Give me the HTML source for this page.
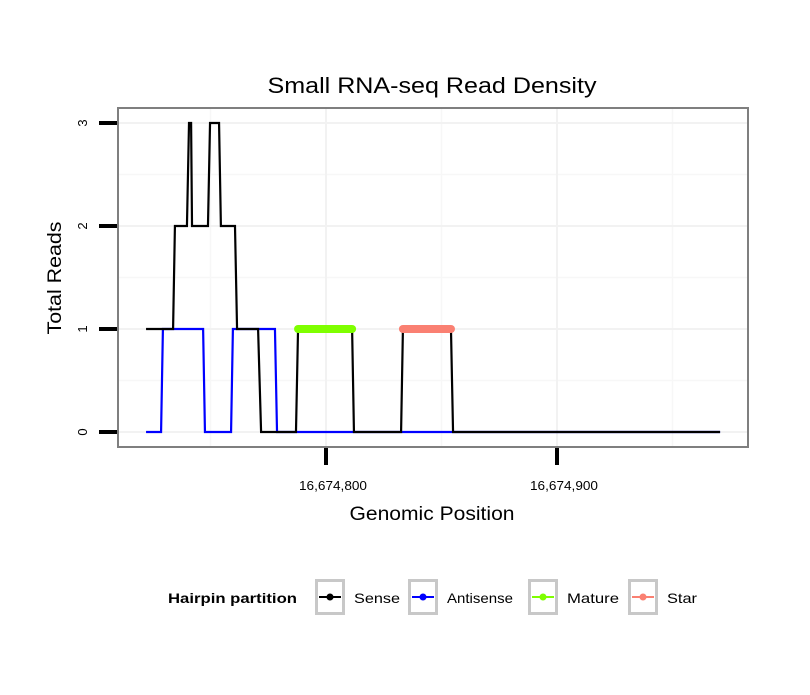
<!DOCTYPE html>
<html><head><meta charset="utf-8">
<style>
body{margin:0;background:#fff;}
svg text{font-family:"Liberation Sans",sans-serif;}
</style></head>
<body>
<svg id="chart" width="810" height="690" xmlns="http://www.w3.org/2000/svg">
<rect width="810" height="690" fill="#fff"/>
<text x="432" y="93" font-size="22" text-anchor="middle" textLength="329" lengthAdjust="spacingAndGlyphs">Small RNA-seq Read Density</text>
<g id="grid"></g>
<g id="series"></g>
<rect x="118" y="108" width="630" height="339" fill="none" stroke="#7f7f7f" stroke-width="2"/>
<g id="axes"></g>
<text x="432" y="520" font-size="19" text-anchor="middle" textLength="165" lengthAdjust="spacingAndGlyphs">Genomic Position</text>
<text transform="translate(61,278) rotate(-90)" font-size="19" text-anchor="middle" textLength="113" lengthAdjust="spacingAndGlyphs">Total Reads</text>
<g id="legend">
<text x="168" y="603" font-size="14" font-weight="bold" textLength="129" lengthAdjust="spacingAndGlyphs">Hairpin partition</text>
</g>
</svg>
<script>
const BASE = 16674700;
const xTicks = [16674800, 16674900];
const xTickLabels = ["16,674,800", "16,674,900"];
const xMinor = [16674750, 16674850, 16674950];
const yTicks = [0, 1, 2, 3];
const yTickLabels = ["0", "1", "2", "3"];
// offsets relative to BASE
const senseX = [22.1,33.8,34.6,39.8,40.7,41.6,42.0,48.9,49.8,53.7,54.5,60.6,61.5,70.6,71.9,87.0,87.9,111.3,112.1,132.5,133.3,154.1,155.0,270.6];
const senseY = [1,1,2,2,3,3,2,2,3,3,2,2,1,1,0,0,1,1,0,0,1,1,0,0];
const antiX = [22.1,28.6,29.4,46.8,47.6,58.9,59.7,77.9,78.8,270.6];
const antiY = [0,0,1,1,0,0,1,1,0,0];
const matureX = [87.9,111.3];
const matureY = [1,1];
const starX = [133.3,154.1];
const starY = [1,1];
const legendNames = ["Sense","Antisense","Mature","Star"];
const legendColors = ["#000000","#0000ff","#7fff00","#fa8072"];
const legendLens = [46,66,52,30];

const NS = "http://www.w3.org/2000/svg";
const xs = v => 326 + (v - 16674800) * 2.31;
const ys = v => 432 - v * 103;
function mk(tag, attrs, parent){const e=document.createElementNS(NS,tag);for(const k in attrs)e.setAttribute(k,attrs[k]);parent.appendChild(e);return e;}
const grid=document.getElementById('grid'), axes=document.getElementById('axes'), series=document.getElementById('series'), legend=document.getElementById('legend');

for (const v of [0.5,1.5,2.5]) {
  const l=mk('line',{x1:118,x2:748,y1:ys(v),y2:ys(v),stroke:'#f7f7f7','stroke-width':1.5},grid);
  
  
}
for (const v of xMinor) {
  const l=mk('line',{x1:xs(v),x2:xs(v),y1:108,y2:447,stroke:'#f7f7f7','stroke-width':1.5},grid);
  
  
}
yTicks.forEach((v,i)=>{
  const l=mk('line',{x1:118,x2:748,y1:ys(v),y2:ys(v),stroke:'#f2f2f2','stroke-width':2},grid);
  
  
  const t=mk('line',{x1:99,x2:117,y1:ys(v),y2:ys(v),stroke:'#000','stroke-width':4},axes);
  
  
  const tx=mk('text',{transform:`translate(87,${ys(v)}) rotate(-90)`,'font-size':13,'text-anchor':'middle'},axes);
  tx.textContent=yTickLabels[i];
  
  
});
xTicks.forEach((v,i)=>{
  const l=mk('line',{x1:xs(v),x2:xs(v),y1:108,y2:447,stroke:'#f2f2f2','stroke-width':2},grid);
  
  
  const t=mk('line',{x1:xs(v),x2:xs(v),y1:448,y2:465,stroke:'#000','stroke-width':4},axes);
  
  
  const tx=mk('text',{x:xs(v)+7,y:490,'font-size':13,'text-anchor':'middle',textLength:68,lengthAdjust:'spacingAndGlyphs'},axes);
  tx.textContent=xTickLabels[i];
  
  
});
function pts(X,Y){return X.map((x,i)=>xs(BASE+x)+','+ys(Y[i])).join(' ');}
const a=mk('polyline',{points:pts(antiX,antiY),fill:'none',stroke:'#0000ff','stroke-width':2.2},series);


const s=mk('polyline',{points:pts(senseX,senseY),fill:'none',stroke:'#000','stroke-width':2.2},series);


const m=mk('polyline',{points:pts(matureX,matureY),fill:'none',stroke:'#7fff00','stroke-width':8,'stroke-linecap':'round'},series);


const st=mk('polyline',{points:pts(starX,starY),fill:'none',stroke:'#fa8072','stroke-width':8,'stroke-linecap':'round'},series);



const keyX=[315,408,528,628], lblX=[354,447,567,667];
legendNames.forEach((n,i)=>{
  const g=mk('g',{},legend);
  
  
  mk('rect',{x:keyX[i]+1.5,y:580.5,width:27,height:33,fill:'#fff',stroke:'#c8c8c8','stroke-width':3},g);
  mk('line',{x1:keyX[i]+4,x2:keyX[i]+26,y1:597,y2:597,stroke:legendColors[i],'stroke-width':2},g);
  mk('circle',{cx:keyX[i]+15,cy:597,r:3.5,fill:legendColors[i]},g);
  const t=mk('text',{x:lblX[i],y:603,'font-size':14,textLength:legendLens[i],lengthAdjust:'spacingAndGlyphs'},g);
  t.textContent=n;
});
</script>
</body></html>
